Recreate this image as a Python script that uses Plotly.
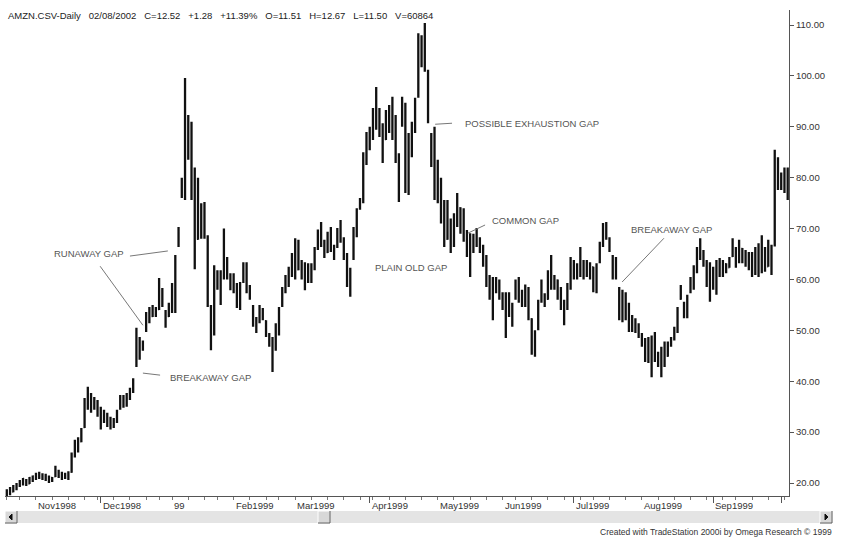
import pandas as pd
import plotly.graph_objects as go

# ---------------- data ----------------
holidays = ["1998-11-26", "1998-12-25", "1999-01-01", "1999-01-18", "1999-02-15",
            "1999-04-02", "1999-05-31", "1999-07-05", "1999-09-06"]
dates = [d for d in pd.bdate_range("1998-10-20", "1999-10-05")
         if d.strftime("%Y-%m-%d") not in holidays]

opens = [17.6, 18.4, 18.3, 19.2, 19.6, 20.2, 20.5, 19.9, 20.8, 21.2,
         21.7, 21.1, 21.5, 20.7, 21.0, 21.3, 22.4, 21.5, 21.1, 21.6,
         22.2, 25.4, 27.8, 28.2, 31.0, 36.0, 35.4, 36.6, 35.2, 33.8,
         32.0, 33.5, 31.4, 32.4, 32.0, 34.6, 36.6, 35.6, 37.0, 38.0,
         43.2, 48.0, 46.2, 50.0, 53.2, 52.8, 54.2, 54.2, 58.0, 53.6,
         52.8, 54.6, 58.4, 66.8, 76.4, 80.0, 91.0, 86.0, 78.0, 68.0,
         74.6, 69.0, 68.2, 54.6, 50.0, 60.8, 58.8, 60.4, 63.6, 60.4,
         58.4, 59.0, 55.0, 59.6, 62.6, 58.2, 54.6, 51.0, 51.8, 54.0,
         51.8, 49.2, 47.6, 46.4, 50.6, 54.8, 57.8, 60.0, 60.8, 64.4,
         62.0, 63.4, 61.2, 62.6, 60.2, 62.2, 66.2, 69.2, 67.0, 65.4,
         68.6, 66.0, 66.4, 69.8, 67.8, 64.6, 59.2, 64.2, 69.8, 74.0,
         75.6, 84.2, 88.4, 87.8, 93.0, 90.2, 90.4, 87.6, 92.6, 89.6,
         92.0, 84.0, 90.4, 94.0, 78.0, 88.4, 89.8, 96.0, 107.2, 103.2,
         101.0, 88.4, 83.4, 77.4, 76.4, 72.6, 68.0, 71.6, 66.6, 72.6,
         74.0, 70.2, 69.4, 65.6, 66.4, 68.2, 67.0, 65.8, 63.2, 59.4,
         57.2, 59.6, 58.2, 56.6, 55.0, 56.8, 53.4, 56.4, 59.6, 56.0,
         57.4, 55.6, 52.2, 45.6, 50.4, 55.8, 57.0, 56.2, 61.4, 59.2,
         59.8, 56.6, 54.4, 55.2, 58.6, 63.4, 60.8, 62.4, 61.4, 63.0,
         61.2, 62.4, 58.0, 63.4, 66.8, 70.2, 68.0, 64.4, 60.4, 58.2,
         52.8, 56.6, 53.2, 50.6, 52.0, 50.2, 49.0, 47.6, 44.4, 47.6,
         44.2, 45.4, 43.2, 46.2, 45.0, 47.0, 48.4, 50.0, 56.2, 55.2,
         53.0, 57.6, 60.2, 62.0, 65.6, 64.8, 63.4, 59.4, 62.2, 59.0,
         63.0, 61.2, 63.0, 62.4, 64.6, 66.0, 63.4, 66.0, 64.2, 63.2,
         64.8, 61.4, 65.8, 61.8, 66.0, 62.6, 66.4, 66.8, 80.4, 78.2,
         80.2, 78.0]

highs = [18.8, 19.2, 19.6, 20.0, 20.6, 21.0, 20.8, 21.2, 21.5, 22.0,
         22.2, 21.9, 21.8, 21.5, 21.2, 23.4, 22.6, 22.2, 22.0, 22.3,
         26.0, 28.5, 29.0, 30.8, 36.7, 38.9, 37.7, 36.9, 36.3, 35.0,
         34.4, 33.8, 33.0, 32.8, 34.4, 37.3, 37.3, 37.7, 38.7, 40.6,
         50.5, 48.7, 48.0, 53.6, 54.6, 55.0, 54.6, 60.3, 58.3, 54.0,
         55.4, 59.3, 64.8, 70.3, 80.0, 99.6, 92.3, 91.0, 82.0, 80.0,
         75.0, 75.2, 68.7, 55.0, 62.8, 61.8, 61.8, 70.0, 64.4, 61.2,
         61.2, 59.3, 59.5, 63.4, 63.4, 58.9, 55.0, 52.6, 55.0, 54.4,
         52.0, 49.5, 48.7, 51.4, 54.6, 58.5, 60.9, 62.5, 65.2, 68.1,
         67.8, 63.8, 63.4, 63.2, 63.2, 66.4, 69.8, 71.3, 67.8, 69.4,
         70.3, 66.8, 70.1, 71.7, 68.3, 65.2, 62.3, 70.3, 74.0, 76.0,
         85.0, 89.0, 90.0, 93.7, 97.8, 93.7, 90.7, 93.3, 94.3, 95.9,
         92.3, 84.8, 95.9, 94.7, 88.8, 91.0, 95.7, 108.4, 108.0, 110.4,
         101.2, 88.8, 90.0, 83.5, 80.0, 75.6, 75.6, 72.0, 73.0, 77.0,
         74.2, 74.0, 69.7, 69.1, 69.0, 70.1, 68.3, 66.8, 64.8, 60.9,
         60.5, 60.5, 60.0, 57.5, 57.5, 57.5, 55.4, 60.0, 60.5, 58.0,
         59.0, 58.5, 52.4, 50.0, 56.0, 60.0, 57.3, 61.8, 64.8, 60.9,
         60.0, 58.5, 56.0, 59.3, 64.4, 63.8, 63.2, 66.4, 63.8, 63.8,
         63.4, 62.5, 63.2, 67.4, 71.1, 71.3, 68.3, 64.8, 64.4, 58.5,
         58.0, 57.5, 55.4, 53.0, 52.4, 51.4, 49.5, 48.5, 48.7, 49.0,
         49.7, 45.8, 46.8, 47.8, 47.8, 48.7, 50.7, 54.6, 58.9, 55.6,
         57.0, 60.5, 62.8, 66.4, 68.1, 65.8, 63.8, 63.4, 62.5, 63.8,
         64.2, 63.8, 63.2, 64.4, 68.1, 66.4, 67.8, 66.2, 65.8, 65.4,
         65.4, 66.4, 67.1, 68.7, 66.4, 67.8, 66.8, 85.5, 84.0, 81.0,
         82.0, 82.0]

lows = [17.4, 17.6, 18.2, 18.6, 19.2, 19.5, 19.4, 19.8, 20.2, 20.6,
        20.8, 20.6, 20.4, 20.0, 20.2, 21.2, 21.0, 20.6, 20.8, 20.6,
        22.0, 25.0, 26.0, 28.0, 30.8, 34.4, 33.8, 34.4, 33.0, 30.5,
        31.8, 31.0, 30.5, 30.8, 31.8, 34.4, 34.8, 35.0, 36.3, 37.7,
        42.8, 44.2, 46.0, 49.7, 51.4, 52.6, 52.6, 54.0, 54.6, 50.5,
        52.6, 53.4, 53.4, 66.4, 76.0, 75.6, 83.5, 75.6, 62.0, 67.8,
        68.0, 68.0, 54.6, 46.1, 49.0, 58.0, 55.0, 60.0, 60.0, 57.9,
        57.3, 54.4, 54.0, 59.3, 57.3, 56.0, 50.7, 49.5, 51.4, 52.0,
        48.7, 46.8, 41.8, 46.0, 49.0, 54.6, 57.3, 58.5, 60.5, 60.0,
        61.8, 60.0, 57.9, 59.3, 59.3, 61.8, 65.8, 66.4, 64.2, 65.2,
        65.4, 63.8, 66.2, 67.2, 63.8, 58.5, 56.6, 63.8, 68.3, 73.7,
        75.0, 82.5, 85.4, 87.4, 89.4, 88.0, 82.9, 87.4, 88.8, 87.4,
        82.9, 75.2, 90.0, 77.0, 76.6, 84.0, 88.8, 95.7, 101.7, 100.8,
        90.7, 82.1, 75.6, 75.0, 71.0, 66.4, 67.8, 65.2, 66.4, 70.3,
        69.0, 67.4, 64.4, 60.5, 65.2, 66.4, 65.2, 62.5, 58.5, 56.0,
        52.0, 57.3, 56.0, 54.0, 48.5, 52.6, 50.7, 56.0, 55.4, 54.6,
        54.6, 52.0, 45.2, 44.8, 50.0, 55.4, 54.6, 56.0, 58.0, 58.0,
        56.0, 54.0, 51.0, 54.0, 58.0, 60.0, 60.0, 60.5, 60.0, 60.5,
        60.0, 57.5, 57.3, 63.2, 66.4, 67.8, 65.4, 60.0, 60.0, 52.0,
        51.6, 52.0, 49.7, 49.7, 49.5, 48.5, 46.8, 43.8, 43.6, 40.8,
        43.8, 42.8, 40.8, 42.8, 44.8, 46.8, 48.0, 49.5, 56.0, 52.4,
        52.4, 57.3, 58.0, 61.2, 63.8, 62.5, 58.5, 55.6, 58.0, 57.0,
        60.5, 60.5, 61.2, 62.3, 64.4, 62.3, 63.2, 63.2, 62.5, 61.8,
        60.5, 60.9, 60.5, 61.2, 61.5, 62.5, 60.9, 66.5, 77.6, 77.6,
        77.0, 75.6]

closes = [18.5, 17.9, 19.4, 19.8, 20.3, 20.8, 19.7, 21.0, 21.3, 21.8,
          21.2, 21.6, 20.8, 21.2, 20.6, 22.9, 21.4, 21.0, 21.7, 22.1,
          25.6, 28.0, 26.6, 30.4, 36.2, 35.2, 37.0, 35.0, 33.6, 31.2,
          33.8, 31.6, 32.6, 31.5, 34.0, 36.8, 35.4, 37.2, 38.2, 40.2,
          48.0, 45.0, 47.6, 53.0, 52.0, 54.4, 53.2, 58.8, 55.0, 51.2,
          55.0, 58.6, 64.0, 69.6, 79.4, 92.0, 85.0, 78.0, 66.0, 78.0,
          69.2, 73.8, 56.0, 47.4, 61.5, 58.6, 60.6, 64.0, 60.8, 59.0,
          60.6, 55.2, 58.8, 62.8, 58.0, 56.6, 51.4, 52.0, 54.4, 52.6,
          49.2, 47.4, 45.0, 51.0, 54.0, 58.0, 60.2, 59.2, 64.6, 61.0,
          66.8, 61.0, 62.8, 60.0, 62.4, 66.0, 69.0, 67.2, 65.0, 68.8,
          66.2, 64.6, 69.6, 68.0, 64.4, 59.4, 61.8, 70.0, 73.6, 75.6,
          84.0, 88.0, 86.2, 93.0, 90.0, 92.6, 84.0, 92.8, 89.4, 95.0,
          84.2, 77.0, 95.4, 78.4, 88.0, 90.0, 95.2, 107.0, 103.0, 101.6,
          91.4, 83.0, 77.0, 76.0, 72.4, 67.4, 74.8, 66.0, 72.4, 75.4,
          70.0, 73.4, 65.4, 67.0, 68.4, 66.8, 65.6, 63.0, 59.2, 57.0,
          59.4, 58.0, 56.6, 54.8, 56.6, 53.2, 51.4, 59.4, 56.2, 57.2,
          55.2, 52.6, 46.0, 49.4, 55.4, 59.2, 55.2, 61.2, 59.0, 60.2,
          56.8, 54.6, 55.4, 58.8, 63.8, 60.6, 62.6, 61.2, 63.2, 61.0,
          62.8, 58.2, 62.8, 67.0, 70.4, 68.4, 65.8, 60.6, 61.0, 53.0,
          56.8, 53.0, 50.4, 52.2, 50.0, 49.0, 47.4, 44.6, 47.8, 41.6,
          49.0, 43.4, 46.0, 44.0, 47.2, 48.4, 50.2, 54.2, 58.4, 53.0,
          56.6, 60.0, 62.4, 65.8, 64.6, 63.2, 59.2, 62.6, 58.8, 63.2,
          61.4, 63.2, 61.8, 64.0, 67.6, 63.0, 67.2, 64.0, 63.0, 65.0,
          61.2, 66.0, 61.6, 68.0, 62.0, 67.2, 65.6, 80.0, 78.4, 80.4,
          77.8, 77.2]

month_labels = ["Nov1998", "Dec1998", "99", "Feb1999", "Mar1999", "Apr1999",
                "May1999", "Jun1999", "Jul1999", "Aug1999", "Sep1999", ""]
price_ticks = [20, 30, 40, 50, 60, 70, 80, 90, 100, 110]
header = ("AMZN.CSV-Daily\u00a0\u00a0\u00a002/08/2002\u00a0\u00a0\u00a0C=12.52\u00a0\u00a0\u00a0+1.28"
          "\u00a0\u00a0\u00a0+11.39%\u00a0\u00a0\u00a0O=11.51\u00a0\u00a0\u00a0H=12.67\u00a0\u00a0\u00a0"
          "L=11.50\u00a0\u00a0\u00a0V=60864")
credit = "Created with TradeStation 2000i by Omega Research \u00a9 1999"

# ---------------- derived positions ----------------
idx = list(range(len(dates)))
month_idx = [i for i in idx if i > 0 and dates[i].month != dates[i - 1].month]
week_idx = [i for i in idx if i == 0 or dates[i].weekday() < dates[i - 1].weekday()]

FONT = "Liberation Sans, Arial, sans-serif"
W, H = 848, 544
ML, MR, MT, MB = 5, 59, 10, 48
PW, PH = W - ML - MR, H - MT - MB


def px(x):  # pixel -> paper x
    return (x - ML) / PW


def py(y):  # pixel -> paper y
    return 1 - (y - MT) / PH


fig = go.Figure()
fig.add_trace(go.Ohlc(
    x=idx, open=opens, high=highs, low=lows, close=closes,
    increasing=dict(line=dict(color="#111111", width=2.3)),
    decreasing=dict(line=dict(color="#111111", width=2.3)),
    tickwidth=0.3, hoverinfo="skip", showlegend=False))

annotations = []
annotations.append(dict(text=header, xref="paper", yref="paper", x=px(6), y=py(15),
                        xanchor="left", yanchor="middle", showarrow=False,
                        font=dict(family=FONT, size=9.5, color="#222222")))
for i, lab in zip(month_idx, month_labels):
    if lab:
        annotations.append(dict(text=lab, xref="x", yref="paper", x=i, y=py(505),
                                xanchor="left", yanchor="middle", xshift=0, showarrow=False,
                                font=dict(family=FONT, size=9.5, color="#333333")))
gap_labels = [("RUNAWAY GAP", 13.9, 65.2), ("BREAKAWAY GAP", 49.8, 40.8),
              ("POSSIBLE EXHAUSTION GAP", 140.8, 90.7), ("COMMON GAP", 149.1, 71.5),
              ("PLAIN OLD GAP", 113.0, 62.4), ("BREAKAWAY GAP", 192.0, 69.9)]
for t, x, y in gap_labels:
    annotations.append(dict(text=t, x=x, y=y, xref="x", yref="y", xanchor="left",
                            yanchor="middle", showarrow=False,
                            font=dict(family=FONT, size=9.5, color="#555555")))
annotations.append(dict(text=credit, xref="paper", yref="paper", x=px(834), y=py(532),
                        xanchor="right", yanchor="middle", showarrow=False,
                        font=dict(family=FONT, size=8.5, color="#333333")))

shapes = []
gap_lines = [(38.0, 64.6, 49.7, 65.6), (28.8, 62.6, 42.0, 51.0), (42.0, 41.6, 47.3, 41.2),
             (132.2, 90.5, 137.4, 90.7), (142.3, 69.1, 147.6, 70.7), (189.9, 59.5, 202.8, 68.1)]
for x0, y0, x1, y1 in gap_lines:
    shapes.append(dict(type="line", xref="x", yref="y", x0=x0, y0=y0, x1=x1, y1=y1,
                       line=dict(color="#777777", width=1)))

# scrollbar (decoration)
sb_y0, sb_y1 = py(523), py(511)
shapes.append(dict(type="rect", xref="paper", yref="paper", x0=px(5), x1=px(832), y0=sb_y0, y1=sb_y1,
                   fillcolor="#e4e4e4", line=dict(width=0), layer="above"))
for bx0, bx1 in [(5, 17), (820, 832), (318, 330)]:
    shapes.append(dict(type="rect", xref="paper", yref="paper", x0=px(bx0), x1=px(bx1),
                       y0=sb_y0, y1=sb_y1, fillcolor="#d8d8d8",
                       line=dict(color="#ffffff", width=1), layer="above"))
    shapes.append(dict(type="path", xref="paper", yref="paper",
                       path=f"M {px(bx0)} {sb_y0} L {px(bx1)} {sb_y0} L {px(bx1)} {sb_y1}",
                       line=dict(color="#555555", width=1), layer="above"))
shapes.append(dict(type="path", xref="paper", yref="paper",
                   path=f"M {px(9)} {py(517)} L {px(12)} {py(514)} L {px(12)} {py(520)} Z",
                   fillcolor="#111111", line=dict(color="#111111", width=1), layer="above"))
shapes.append(dict(type="path", xref="paper", yref="paper",
                   path=f"M {px(828)} {py(517)} L {px(825)} {py(514)} L {px(825)} {py(520)} Z",
                   fillcolor="#111111", line=dict(color="#111111", width=1), layer="above"))

fig.update_layout(
    width=W, height=H, margin=dict(l=ML, r=MR, t=MT, b=MB),
    paper_bgcolor="white", plot_bgcolor="white",
    annotations=annotations, shapes=shapes, hovermode=False,
    xaxis=dict(range=[-0.56, 241.4], rangeslider=dict(visible=False),
               tickmode="array", tickvals=month_idx, ticktext=[""] * len(month_idx),
               ticks="outside", ticklen=6, tickcolor="#555555",
               minor=dict(tickmode="array", tickvals=week_idx, ticks="outside",
                          ticklen=3, tickcolor="#777777"),
               showline=True, linecolor="#555555", linewidth=1,
               showgrid=False, zeroline=False, fixedrange=True),
    yaxis=dict(side="right", range=[17.45, 112.95], tickmode="array", tickvals=price_ticks,
               tickformat=".2f", ticks="outside", ticklen=4, tickcolor="#555555",
               showline=True, linecolor="#555555", linewidth=1,
               showgrid=False, zeroline=False, fixedrange=True,
               tickfont=dict(family=FONT, size=9.5, color="#333333")),
)

fig.write_html("out.html", config={"displayModeBar": False},
               post_script="document.body.style.margin='0px';document.body.style.overflow='hidden';")
